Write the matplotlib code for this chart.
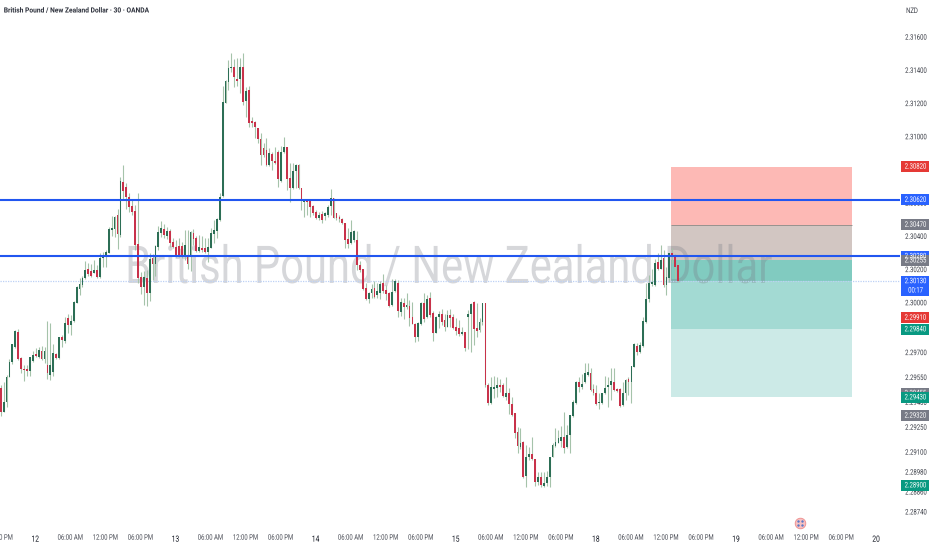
import matplotlib
matplotlib.use("Agg")
import matplotlib.pyplot as plt
from matplotlib.patches import Rectangle
from matplotlib.patheffects import AbstractPathEffect
from matplotlib.transforms import Affine2D

# Prices are stored as 1e-5 units above 2.0 (30130 means 2.30130)
opens = [29485,29344,29405,29555,29646,29732,29826,29670,29603,29601,
29591,29652,29690,29672,29712,29660,29628,29563,29585,29692,
29666,29792,29768,29907,29866,29893,30001,30081,30107,30148,
30206,30192,30182,30198,30158,30268,30282,30303,30439,30443,
30529,30407,30730,30696,30640,30584,30556,30353,30154,30098,
30148,30058,30268,30234,30339,30419,30443,30403,30433,30369,
30339,30343,30343,30288,30282,30278,30419,30389,30315,30333,
30329,30309,30329,30415,30435,30499,30643,31205,31332,31412,
31422,31346,31346,31422,31218,31282,31093,31091,31051,30985,
30930,30920,30830,30896,30856,30910,30736,30906,30936,30750,
30690,30796,30830,30690,30607,30619,30611,30583,30549,30509,
30535,30523,30529,30583,30629,30539,30515,30503,30479,30382,
30358,30378,30378,30228,30202,30087,30021,30061,30087,30047,
30061,30121,30077,30057,29987,30073,30117,29947,29997,29973,
29981,29913,29873,29796,29873,29997,29913,30027,29937,29820,
29913,29933,29897,29856,29927,29913,29852,29846,29812,29822,
29913,29933,30007,29846,29836,29886,29997,29505,29399,29481,
29485,29505,29505,29435,29455,29391,29334,29222,29134,29164,
28957,29070,29090,29058,28923,28953,28897,28913,28949,29074,
29138,29158,29170,29190,29130,29204,29319,29395,29525,29495,
29525,29566,29580,29479,29455,29395,29395,29455,29495,29505,
29525,29479,29479,29385,29455,29539,29525,29616,29740,29706,
29740,29887,30021,30114,30108,30248,30202,30268,30108,30148,30298,30288,30228]
highs = [29505,29525,29565,29660,29752,29836,29840,29676,29623,29623,
29676,29712,29726,29732,29740,29732,29893,29876,29752,29700,
29796,29804,29917,29931,29927,30013,30101,30148,30162,30254,
30238,30234,30258,30228,30298,30309,30319,30455,30523,30523,
30564,30756,30831,30720,30664,30620,30590,30664,30188,30194,
30198,30298,30295,30349,30463,30493,30475,30459,30443,30389,
30379,30389,30369,30439,30439,30433,30443,30403,30409,30403,
30389,30389,30449,30499,30509,30660,31306,31342,31462,31503,
31466,31473,31473,31503,31302,31306,31121,31095,31051,31021,
30961,30991,30930,30910,30940,30920,30944,31001,30940,30840,
30840,30836,30836,30690,30623,30619,30619,30589,30559,30549,
30555,30549,30589,30683,30633,30540,30529,30509,30483,30449,
30499,30438,30434,30254,30202,30121,30067,30113,30134,30121,
30134,30174,30107,30067,30142,30142,30138,30027,30027,30057,
30017,30007,29877,29887,30007,30057,30047,30067,29953,29921,
29953,29961,29933,29957,29961,29933,29907,29897,29856,29826,
29957,29997,30011,29997,29907,30001,30001,29515,29555,29559,
29555,29539,29515,29551,29485,29435,29338,29254,29244,29170,
29144,29134,29194,29058,28983,28983,28983,28989,29074,29154,
29244,29234,29258,29345,29264,29325,29415,29531,29555,29572,
29636,29640,29606,29511,29505,29455,29459,29559,29555,29606,
29606,29485,29485,29525,29539,29555,29620,29756,29756,29766,
29913,30122,30168,30202,30262,30302,30349,30319,30214,30302,30329,30294,30238]
lows = [29318,29344,29374,29551,29631,29726,29656,29579,29531,29559,
29559,29646,29676,29666,29656,29636,29539,29535,29559,29664,
29662,29736,29760,29820,29804,29887,30001,30047,30097,30142,
30162,30158,30178,30148,30148,30214,30214,30299,30403,30395,
30327,30399,30620,30564,30544,30529,30319,30118,30054,29987,
29981,30013,30138,30162,30319,30395,30389,30383,30335,30329,
30278,30274,30268,30258,30202,30194,30349,30309,30309,30309,
30299,30248,30329,30359,30389,30495,30639,31201,31282,31392,
31302,31306,31266,31192,31121,31057,31057,30991,30961,30830,
30880,30824,30824,30800,30836,30695,30730,30900,30679,30609,
30684,30689,30684,30559,30519,30529,30519,30529,30503,30499,
30479,30499,30519,30529,30509,30499,30489,30475,30328,30328,
30354,30368,30198,30188,30077,30017,30001,30027,30027,30027,
30021,30057,30017,29973,29981,30067,29913,29921,29901,29961,
29860,29873,29766,29772,29866,29887,29907,29917,29772,29816,
29846,29866,29832,29852,29852,29840,29806,29800,29806,29712,
29720,29706,29746,29796,29826,29866,29495,29385,29391,29425,
29435,29465,29435,29415,29330,29318,29184,29093,29118,28943,
28889,29054,29054,28897,28903,28889,28889,28897,28889,29070,
29134,29154,29134,29098,29124,29098,29315,29391,29465,29479,
29519,29560,29471,29445,29385,29359,29391,29451,29371,29415,
29471,29465,29371,29379,29415,29445,29395,29612,29686,29700,
29736,29881,30007,30102,30102,30198,30202,30098,30047,30128,30238,30148,30128]
closes = [29344,29405,29555,29646,29752,29830,29660,29599,29595,29591,
29672,29686,29680,29716,29662,29712,29579,29623,29700,29670,
29792,29776,29880,29866,29893,30007,30097,30113,30148,30198,
30174,30162,30198,30154,30268,30288,30305,30447,30449,30515,
30415,30736,30676,30640,30576,30548,30349,30148,30098,30154,
30058,30266,30234,30343,30429,30449,30409,30435,30363,30335,
30282,30282,30282,30349,30234,30429,30383,30315,30339,30319,
30309,30339,30419,30439,30503,30640,31212,31338,31412,31422,
31358,31338,31422,31212,31278,31085,31085,31057,30985,30890,
30890,30830,30900,30856,30844,30744,30910,30940,30744,30690,
30796,30830,30690,30615,30619,30609,30579,30539,30509,30529,
30499,30539,30579,30629,30509,30509,30505,30479,30378,30354,
30428,30434,30228,30198,30081,30021,30057,30081,30037,30073,
30113,30073,30053,29981,30067,30134,29953,30007,29973,29987,
29907,29873,29796,29881,30001,29901,30021,29927,29820,29917,
29933,29887,29856,29927,29907,29846,29832,29810,29826,29726,
29933,29993,29840,29830,29886,29997,29505,29399,29491,29491,
29505,29495,29439,29455,29391,29324,29218,29138,29158,28949,
29070,29090,29058,28923,28953,28903,28917,28953,29074,29144,
29164,29184,29190,29124,29204,29325,29405,29525,29495,29511,
29576,29586,29475,29455,29391,29399,29455,29485,29505,29531,
29475,29471,29379,29459,29535,29525,29620,29752,29706,29746,
29893,30021,30118,30128,30242,30202,30258,30108,30158,30298,30274,30218,30134]

level_lines = [30620, 30280]
last_price = 30130
price_ticks = [31600,31400,31200,31000,30600,30400,30200,30000,29700,29550,29400,29250,29100,28980,28860,28740]
# (value, text, colour) drawn in this order, later ones on top
price_tags = [(30280,"2.30280","#2962ff"),(30820,"2.30820","#e53935"),(30620,"2.30620","#2962ff"),
              (30470,"2.30470","#787b86"),(30255,"2.30255","#787b86"),(29910,"2.29910","#e53935"),
              (29840,"2.29840","#089981"),(29455,"2.29455","#787b86"),(29430,"2.29430","#089981"),
              (29320,"2.29320","#787b86"),(28900,"2.28900","#089981")]
countdown = "00:17"
time_ticks = [0,12,24,36,48,60,72,84,96,108,120,132,144,156,168,180,192,204,216,228,240,252,264,276,288,300]
time_labels = ["06:00 PM","12","06:00 AM","12:00 PM","06:00 PM","13","06:00 AM","12:00 PM","06:00 PM",
               "14","06:00 AM","12:00 PM","06:00 PM","15","06:00 AM","12:00 PM","06:00 PM","18",
               "06:00 AM","12:00 PM","06:00 PM","19","06:00 AM","12:00 PM","06:00 PM","20"]
time_ticks = [t-0.2 for t in time_ticks]
# position-tool zones: (top, bottom, colour)
zones = [(30820,30470,"#fdb9b5"),(30470,30255,"#d2c6c2"),(30255,30130,"#81cbc0"),
         (30130,29840,"#a3dad3"),(29840,29430,"#cceae7")]
zone_start, zone_end = 229.45, 291.5

W, H = 932, 550
AX_W = 900
GREEN, RED = "#2c6e55", "#c8324a"
WICK = "#a5c3aa"


class Squeeze(AbstractPathEffect):
    def __init__(self, sx):
        super().__init__()
        self.sx = sx

    def draw_path(self, renderer, gc, tpath, affine, rgbFace=None):
        e = tpath.get_extents(affine)
        cx = (e.x0 + e.x1) / 2
        tr = affine + Affine2D().translate(-cx, 0).scale(self.sx, 1).translate(cx, 0)
        renderer.draw_path(gc, tpath, tr, rgbFace)


plt.rcParams["font.family"] = ["Roboto", "DejaVu Sans"]
fig = plt.figure(figsize=(W / 100, H / 100), dpi=100, facecolor="white")
ax = fig.add_axes([0, 0, AX_W / W, 1])
ax.set_xlim(-0.24, 307.98)
ax.set_ylim(28511, 31824)
for s in ax.spines.values():
    s.set_visible(False)

for top, bot, c in zones:
    ax.add_patch(Rectangle((zone_start, bot), zone_end - zone_start, top - bot,
                           facecolor=c, edgecolor="none", zorder=1))
ax.hlines(30470, zone_start, zone_end, color="#8f8a86", lw=0.6, zorder=1.2)

sq_small = [Squeeze(0.78)]
wm = ax.text(448.5 / AX_W, 28740 + (512 - 283) * 6.024, "British Pound / New Zealand Dollar",
             transform=ax.get_yaxis_transform(), ha="center", va="baseline",
             fontsize=37.5, color="#787b86", alpha=0.3, zorder=1.5, fontweight="normal")
wm.set_path_effects([Squeeze(0.80)])

idx = list(range(len(closes)))
ax.vlines(idx, lows, highs, color=WICK, lw=0.8, zorder=3)
bottoms = [min(o, c) for o, c in zip(opens, closes)]
heights = [max(abs(c - o), 8) for o, c in zip(opens, closes)]
colors = [GREEN if c >= o else RED for o, c in zip(opens, closes)]
ax.bar(idx, heights, bottom=bottoms, width=0.62, color=colors, linewidth=0, zorder=3.2)

ax.hlines(level_lines, -0.24, 307.98, color="#2156f0", lw=1.5, zorder=4)
ax.hlines(last_price, -0.24, 307.98, color="#bcd0f5", lw=0.9, linestyles=(0, (1, 1)), zorder=2)

ax.yaxis.tick_right()
ax.set_yticks(price_ticks)
ax.set_yticklabels([f"{2 + v / 1e5:.5f}" for v in price_ticks])
ax.tick_params(axis="y", length=0, pad=1.5, labelsize=5.5, labelcolor="#3a3d46")
for t in ax.get_yticklabels():
    t.set_path_effects(sq_small)

ax.set_xticks(time_ticks)
ax.set_xticklabels(time_labels)
ax.tick_params(axis="x", length=0, pad=-11, labelsize=5.5, labelcolor="#4a4d56")
for t in ax.get_xticklabels():
    t.set_path_effects(sq_small)
    if t.get_text().isdigit():
        t.set_color("#131722")
        t.set_fontsize(6.2)

ytr = ax.get_yaxis_transform()
PX = 6.024  # price units per pixel
for v, txt, c in price_tags:
    ax.add_patch(Rectangle((900.7 / AX_W, v - 5.5 * PX), 28.3 / AX_W, 11 * PX, transform=ytr,
                           facecolor=c, edgecolor="none", clip_on=False, zorder=6))
    ax.text(915.5 / AX_W, v, txt, transform=ytr, ha="center", va="center", fontsize=5.5,
            color="white", zorder=6 if v == 29455 else 7, clip_on=False, path_effects=sq_small)

ax.add_patch(Rectangle((900.7 / AX_W, last_price - 15 * PX), 28.3 / AX_W, 20.5 * PX, transform=ytr,
                       facecolor="#2962ff", edgecolor="none", clip_on=False, zorder=6))
ax.text(915.5 / AX_W, last_price, f"{2 + last_price / 1e5:.5f}", transform=ytr, ha="center", va="center",
        fontsize=5.5, color="white", zorder=7, clip_on=False, path_effects=sq_small)
ax.text(915.5 / AX_W, last_price - 9.3 * PX, countdown, transform=ytr, ha="center", va="center",
        fontsize=5.5, color="white", zorder=7, clip_on=False, path_effects=sq_small)

fig.text(76.5 / W, 1 - 10.5 / H, "British Pound / New Zealand Dollar · 30 · OANDA", ha="center", va="center",
         fontsize=5.15, fontweight="bold", color="#2a2e39", path_effects=[Squeeze(0.93)])
fig.text(912 / W, 1 - 11 / H, "NZD", ha="center", va="center", fontsize=5.5, color="#3a3d46",
         path_effects=sq_small)

# economic-calendar marker
ev_x, ev_y = (800 - 0.7) / 2.92, 28740 + (512 - 523) * PX
ax.scatter([ev_x], [ev_y], s=58, color="#f7c1c1", edgecolors="#ee8a8a", linewidths=0.6, zorder=5)
ax.scatter([ev_x - 0.7, ev_x + 0.7, ev_x - 0.7, ev_x + 0.7], [ev_y + 14, ev_y + 14, ev_y - 14, ev_y - 14],
           s=3, color="#5a78c8", linewidths=0, zorder=6)

fig.savefig("out.png", dpi=100, facecolor="white")
